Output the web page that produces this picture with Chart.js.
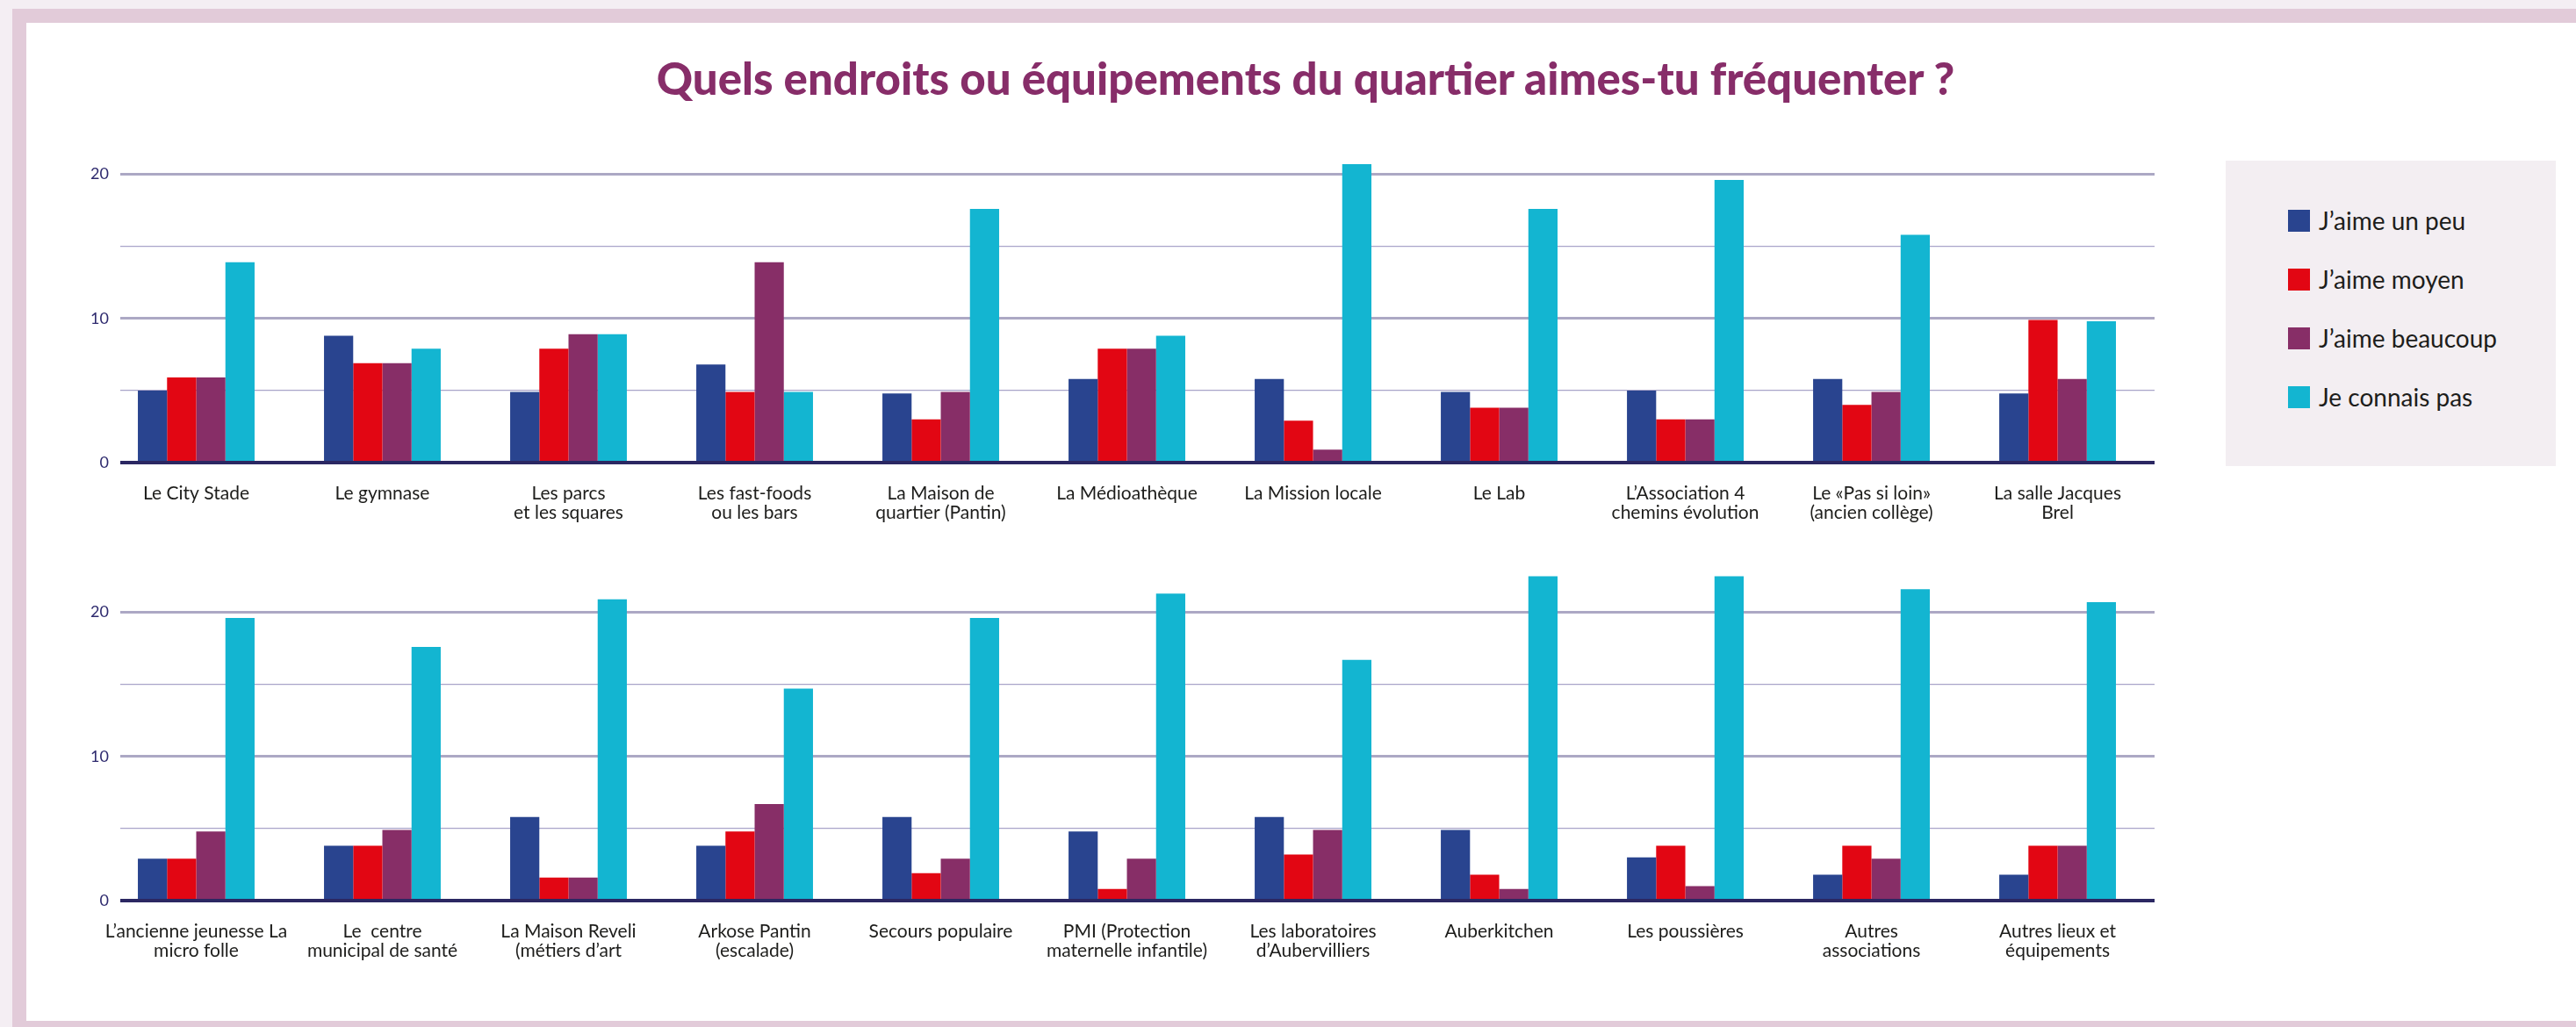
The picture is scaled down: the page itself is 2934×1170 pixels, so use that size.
<!DOCTYPE html>
<html>
<head>
<meta charset="utf-8">
<title>Quels endroits ou équipements du quartier aimes-tu fréquenter ?</title>
<script src="https://cdn.jsdelivr.net/npm/chart.js@4.4.1/dist/chart.umd.min.js"></script>
<style>
  html, body { margin: 0; padding: 0; }
  body { width: 2934px; height: 1170px; background: #f4eef3; position: relative; overflow: hidden; font-family: Lato, "Open Sans", sans-serif; }
  #panel { position: absolute; left: 14px; top: 10px; width: 2920px; height: 1160px; background: #e2cbd9; }
  #inner { position: absolute; left: 30px; top: 26px; width: 2904px; height: 1137px; background: #ffffff; }
  #titre { position: absolute; left: 0; top: 63px; width: 2974px; text-align: center; font-size: 51px; line-height: 51px; font-weight: 900; color: #872d69; }
  canvas { position: absolute; left: 0; }
  #c1 { top: 109px; }
  #c2 { top: 608px; }
  #legende { position: absolute; left: 2535px; top: 183px; width: 376px; height: 348px; background: #f3eef2; }
  .item { position: absolute; left: 71px; height: 25px; }
  .carre { position: absolute; left: 0; top: 0; width: 25px; height: 25px; }
  .texte { position: absolute; left: 35px; top: -4px; font-size: 28px; line-height: 32px; color: #1d1d1b; white-space: nowrap; }
</style>
</head>
<body>
<div id="panel"></div>
<div id="inner"></div>
<div id="titre">Quels endroits ou équipements du quartier aimes-tu fréquenter ?</div>
<canvas id="c1" width="2470" height="498"></canvas>
<canvas id="c2" width="2470" height="498"></canvas>
<div id="legende"></div>

<script>
// series names and colours
var series = ["J’aime un peu", "J’aime moyen", "J’aime beaucoup", "Je connais pas"];
var couleurs = ["#29448f", "#e20613", "#872e67", "#13b5d1"];

// first chart
var lieux1 = [
  "Le City Stade",
  "Le gymnase",
  ["Les parcs", "et les squares"],
  ["Les fast-foods", "ou les bars"],
  ["La Maison de", "quartier (Pantin)"],
  "La Médioathèque",
  "La Mission locale",
  "Le Lab",
  ["L’Association 4", "chemins évolution"],
  ["Le «Pas si loin»", "(ancien collège)"],
  ["La salle Jacques", "Brel"]
];
var unPeu1     = [5, 8.8, 4.9, 6.8, 4.8, 5.8, 5.8, 4.9, 5, 5.8, 4.8];
var moyen1     = [5.9, 6.9, 7.9, 4.9, 3, 7.9, 2.9, 3.8, 3, 4, 9.9];
var beaucoup1  = [5.9, 6.9, 8.9, 13.9, 4.9, 7.9, 0.9, 3.8, 3, 4.9, 5.8];
var connaisPas1 = [13.9, 7.9, 8.9, 4.9, 17.6, 8.8, 20.7, 17.6, 19.6, 15.8, 9.8];

// second chart
var lieux2 = [
  ["L’ancienne jeunesse La", "micro folle"],
  ["Le  centre", "municipal de santé"],
  ["La Maison Reveli", "(métiers d’art"],
  ["Arkose Pantin", "(escalade)"],
  "Secours populaire",
  ["PMI (Protection", "maternelle infantile)"],
  ["Les laboratoires", "d’Aubervilliers"],
  "Auberkitchen",
  "Les poussières",
  ["Autres", "associations"],
  ["Autres lieux et", "équipements"]
];
var unPeu2     = [2.9, 3.8, 5.8, 3.8, 5.8, 4.8, 5.8, 4.9, 3, 1.8, 1.8];
var moyen2     = [2.9, 3.8, 1.6, 4.8, 1.9, 0.8, 3.2, 1.8, 3.8, 3.8, 3.8];
var beaucoup2  = [4.8, 4.9, 1.6, 6.7, 2.9, 2.9, 4.9, 0.8, 1, 2.9, 3.8];
var connaisPas2 = [19.6, 17.6, 20.9, 14.7, 19.6, 21.3, 16.7, 22.5, 22.5, 21.6, 20.7];

var yTicks = [0, 10, 20];

function points(vals) {
  return vals.map(function (v, i) { return { x: i, y: v }; });
}

function graficar(id, lieux, s1, s2, s3, s4) {
  var donnees = [s1, s2, s3, s4];
  var ctx = document.getElementById(id).getContext('2d');
  return new Chart(ctx, {
    type: 'bar',
    data: {
      datasets: donnees.map(function (d, k) {
        return {
          label: series[k],
          data: points(d),
          backgroundColor: couleurs[k],
          borderWidth: 0,
          categoryPercentage: 0.627,
          barPercentage: 1
        };
      })
    },
    options: {
      responsive: false,
      animation: false,
      devicePixelRatio: 1,
      layout: { padding: { top: 20, right: 16, bottom: 0, left: 0 } },
      plugins: { legend: { display: false }, tooltip: { enabled: false } },
      scales: {
        x: {
          type: 'linear',
          offset: false,
          min: -0.408,
          max: 10.521,
          grid: { display: false, drawTicks: false, offset: false },
          border: { display: false },
          ticks: {
            stepSize: 1,
            includeBounds: false,
            autoSkip: false,
            maxRotation: 0,
            padding: 24,
            color: '#1d1d1b',
            font: { family: 'Lato', size: 21, lineHeight: '22px' },
            callback: function (v) {
              var i = Math.round(v);
              return Math.abs(v - i) < 1e-6 && lieux[i] !== undefined ? lieux[i] : '';
            }
          },
          afterFit: function (scale) { scale.height = 80; }
        },
        y: {
          min: 0,
          max: 24,
          grid: {
            drawTicks: false,
            color: function (c) {
              if (c.tick.value === 0) return '#2b2762';
              return c.tick.value % 10 === 0 ? '#aca8c4' : '#a9a4c9';
            },
            lineWidth: function (c) {
              if (c.tick.value === 0) return 4;
              return c.tick.value % 10 === 0 ? 3 : 1.3;
            }
          },
          border: { display: false },
          ticks: {
            stepSize: 5,
            includeBounds: false,
            padding: 13,
            color: '#2e2a6e',
            font: { family: 'Lato', size: 18 },
            callback: function (v) { return yTicks.indexOf(v) >= 0 ? String(v) : ''; }
          },
          afterFit: function (scale) { scale.width = 137; }
        }
      }
    }
  });
}

graficar('c1', lieux1, unPeu1, moyen1, beaucoup1, connaisPas1);
graficar('c2', lieux2, unPeu2, moyen2, beaucoup2, connaisPas2);

// legend
var leg = document.getElementById('legende');
series.forEach(function (s, k) {
  var it = document.createElement('div');
  it.className = 'item';
  it.style.top = (56 + k * 67) + 'px';
  it.innerHTML = '<div class="carre" style="background:' + couleurs[k] + '"></div><div class="texte">' + s + '</div>';
  leg.appendChild(it);
});
</script>
</body>
</html>
